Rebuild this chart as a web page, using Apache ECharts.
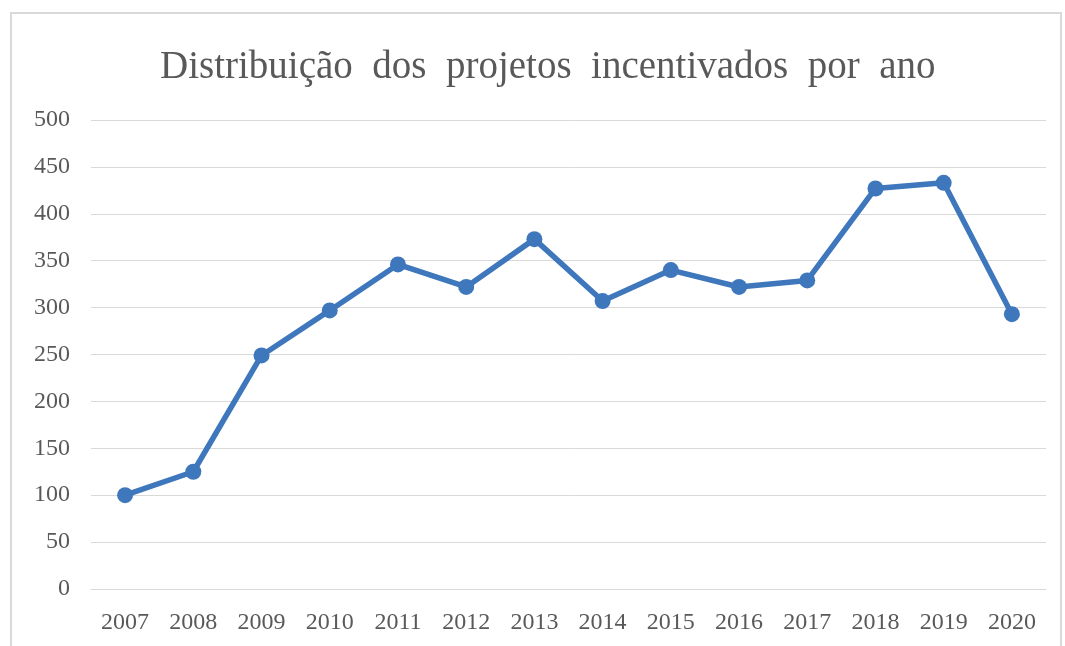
<!DOCTYPE html>
<html>
<head>
<meta charset="utf-8">
<script src="https://cdn.jsdelivr.net/npm/echarts@6/dist/echarts.min.js"></script>
<style>
  html, body { margin: 0; padding: 0; background: #fff; overflow: hidden; }
  #frame { position: absolute; left: 10px; top: 12px; width: 1052px; height: 650px; border: 2px solid #d9d9d9; box-sizing: border-box; }
  #chart { position: absolute; left: 0; top: 0; width: 1065px; height: 646px; }
</style>
</head>
<body>
<div id="frame"></div>
<div id="chart"></div>
<script>
  var years = ['2007', '2008', '2009', '2010', '2011', '2012', '2013', '2014', '2015', '2016', '2017', '2018', '2019', '2020'];
  var projetos = [100, 125, 249, 297, 346, 322, 373, 307, 340, 322, 329, 427, 433, 293];
  var titleText = 'Distribuição  dos  projetos  incentivados  por  ano';

  var chart = echarts.init(document.getElementById('chart'));
  var serif = '"Liberation Serif", "DejaVu Serif", serif';

  chart.setOption({
    animation: false,
    title: {
      text: titleText,
      left: 155,
      top: 43,
      textStyle: { fontFamily: serif, fontSize: 39, fontWeight: 'normal', color: '#595959' }
    },
    grid: { left: 91, right: 19, top: 120, bottom: 57 },
    xAxis: {
      type: 'category',
      data: years,
      boundaryGap: true,
      axisLine: { show: true, lineStyle: { color: '#d9d9d9', width: 1 } },
      axisTick: { show: false },
      axisLabel: { fontFamily: serif, fontSize: 24, color: '#595959', margin: 22 }
    },
    yAxis: {
      type: 'value',
      min: 0,
      max: 500,
      interval: 50,
      axisLine: { show: false },
      axisTick: { show: false },
      axisLabel: { fontFamily: serif, fontSize: 24, color: '#595959', margin: 21 },
      splitLine: { lineStyle: { color: '#d9d9d9', width: 1 } }
    },
    series: [{
      type: 'line',
      data: projetos,
      symbol: 'circle',
      symbolSize: 16,
      lineStyle: { color: '#3f77bd', width: 5.5 },
      itemStyle: { color: '#3f77bd' }
    }]
  });
</script>
</body>
</html>
